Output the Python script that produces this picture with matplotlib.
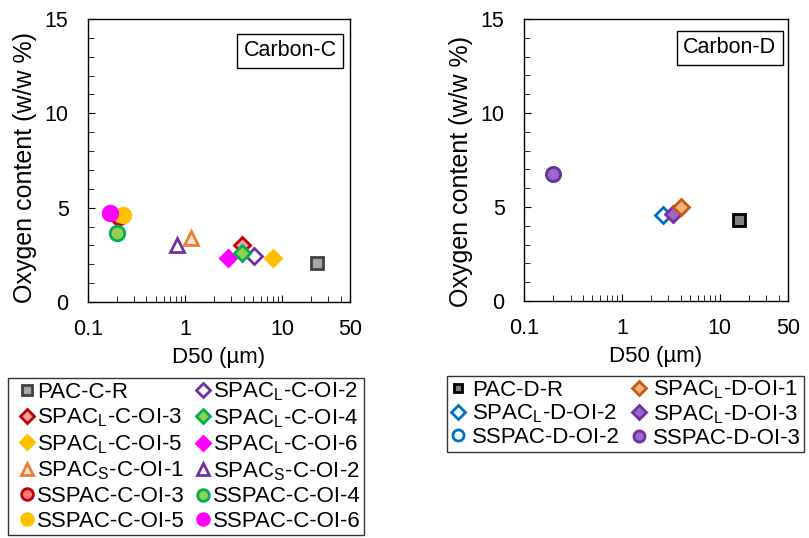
import matplotlib
matplotlib.use('Agg')
import matplotlib.pyplot as plt
from matplotlib.ticker import LogLocator, FixedLocator, NullFormatter, MultipleLocator

plt.rcParams['font.family'] = ['Liberation Sans', 'DejaVu Sans']
plt.rcParams['mathtext.fontset'] = 'custom'
plt.rcParams['mathtext.rm'] = 'Liberation Sans'
FS = 15.5

# Carbon-C data
c_labels = ['PAC-C-R', r'SPAC$_\mathregular{L}$-C-OI-2', r'SPAC$_\mathregular{L}$-C-OI-3',
            r'SPAC$_\mathregular{L}$-C-OI-4', r'SPAC$_\mathregular{L}$-C-OI-5', r'SPAC$_\mathregular{L}$-C-OI-6',
            r'SPAC$_\mathregular{S}$-C-OI-1', r'SPAC$_\mathregular{S}$-C-OI-2',
            'SSPAC-C-OI-3', 'SSPAC-C-OI-4', 'SSPAC-C-OI-5', 'SSPAC-C-OI-6']
c_d50 = [23, 5.1, 3.9, 3.9, 8.1, 2.8, 1.15, 0.83, 0.21, 0.2, 0.23, 0.17]
c_oxy = [2.05, 2.45, 3.0, 2.6, 2.35, 2.35, 3.4, 3.0, 4.5, 3.65, 4.6, 4.7]
c_mark = ['s', 'D', 'D', 'D', 'D', 'D', '^', '^', 'o', 'o', 'o', 'o']
c_face = ['#a6a6a6', 'white', '#f4a0a0', '#92d050', '#ffc000', '#ff00ff',
          '#fbe5d6', 'white', '#ff7c80', '#92d050', '#ffc000', '#ff00ff']
c_edge = ['#404040', '#7030a0', '#c00000', '#00b050', '#ffc000', '#ff00ff',
          '#ed7d31', '#7030a0', '#c00000', '#00b050', '#ffc000', '#ff00ff']

# Carbon-D data
d_labels = ['PAC-D-R', r'SPAC$_\mathregular{L}$-D-OI-1', r'SPAC$_\mathregular{L}$-D-OI-2',
            r'SPAC$_\mathregular{L}$-D-OI-3', 'SSPAC-D-OI-2', 'SSPAC-D-OI-3']
d_d50 = [15.7, 4.0, 2.65, 3.35, 0.2, 0.2]
d_oxy = [4.3, 5.0, 4.57, 4.63, 6.75, 6.75]
d_mark = ['s', 'D', 'D', 'D', 'o', 'o']
d_face = ['#808080', '#f4b183', 'white', '#9966cc', 'white', '#9e6ad0']
d_edge = ['black', '#c55a11', '#0070c0', '#7030a0', '#0070c0', '#7030a0']

fig = plt.figure(figsize=(8.09, 5.38), dpi=100)
W, H = 809, 538
ax1 = fig.add_axes([88/W, 1-302/H, 262/W, 283/H])
ax2 = fig.add_axes([524/W, 1-301/H, 264/W, 282/H])


def style(ax, name, box, lab_xy):
    ax.set_xscale('log')
    ax.set_xlim(0.1, 50)
    ax.set_ylim(0, 15)
    ax.xaxis.set_major_locator(FixedLocator([0.1, 1, 10, 50]))
    ax.xaxis.set_minor_locator(LogLocator(base=10, subs=range(2, 10)))
    ax.xaxis.set_minor_formatter(NullFormatter())
    ax.set_xticklabels(['0.1', '1', '10', '50'])
    ax.yaxis.set_major_locator(MultipleLocator(5))
    ax.yaxis.set_minor_locator(MultipleLocator(1))
    ax.tick_params(which='both', direction='in', top=False, right=False, labelsize=FS)
    ax.tick_params(which='major', length=5)
    ax.tick_params(axis='y', which='major', pad=14)
    ax.tick_params(axis='x', which='major', pad=12)
    ax.tick_params(which='minor', length=4)
    ax.set_xlabel('D50 (µm)', fontsize=16, labelpad=5)
    ax.set_ylabel('Oxygen content (w/w %)', fontsize=18)
    ax.yaxis.set_label_coords(*lab_xy)
    ax.text(box[0], box[1], name, transform=ax.transAxes, ha='right', va='top',
            fontsize=FS, bbox=dict(boxstyle='square,pad=0.3', fc='white', ec='black', lw=1))
    for s in ax.spines.values():
        s.set_linewidth(1)


style(ax1, 'Carbon-C', (0.95, 0.925), (-0.195, 0.477))
style(ax2, 'Carbon-D', (0.955, 0.935), (-0.193, 0.46))

h1 = []
for i in range(len(c_labels)):
    ms = {'s': 9, 'D': 8.5, '^': 10, 'o': 10.5}[c_mark[i]]
    h, = ax1.plot(c_d50[i], c_oxy[i], ls='none', marker=c_mark[i], ms=ms,
                  mfc=c_face[i], mec=c_edge[i], mew=2, label=c_labels[i],
                  zorder=3 + (1 if i in (2, 3) else 0))
    h1.append(h)

hd = {}
for i in [4, 5, 0, 2, 3, 1]:
    ms = {'s': 8, 'D': 8.5, 'o': 10}[d_mark[i]]
    h, = ax2.plot(d_d50[i], d_oxy[i], ls='none', marker=d_mark[i], ms=ms,
                  mfc=d_face[i], mec=d_edge[i], mew=2, label=d_labels[i])
    hd[i] = h
h2 = [hd[i] for i in range(len(d_labels))]


def rowmajor(items):
    return items[0::2] + items[1::2]


leg_kw = dict(ncol=2, fontsize=16, frameon=True, fancybox=False, edgecolor='black',
              borderpad=0.13, borderaxespad=0, markerscale=0.8)
l1 = fig.legend(rowmajor(h1), rowmajor(c_labels), loc='upper left',
                bbox_to_anchor=(8/W, 1-378/H), handlelength=1.45, handletextpad=-0.27,
                columnspacing=0.1, labelspacing=0.17, **leg_kw)
l2 = fig.legend(rowmajor(h2), rowmajor(d_labels), loc='upper left',
                bbox_to_anchor=(447/W, 1-376/H), handlelength=0.75, handletextpad=0.25,
                columnspacing=0.5, labelspacing=0.08, **leg_kw)
for l in (l1, l2):
    l.get_frame().set_linewidth(1)

fig.savefig('out.png', dpi=100)
